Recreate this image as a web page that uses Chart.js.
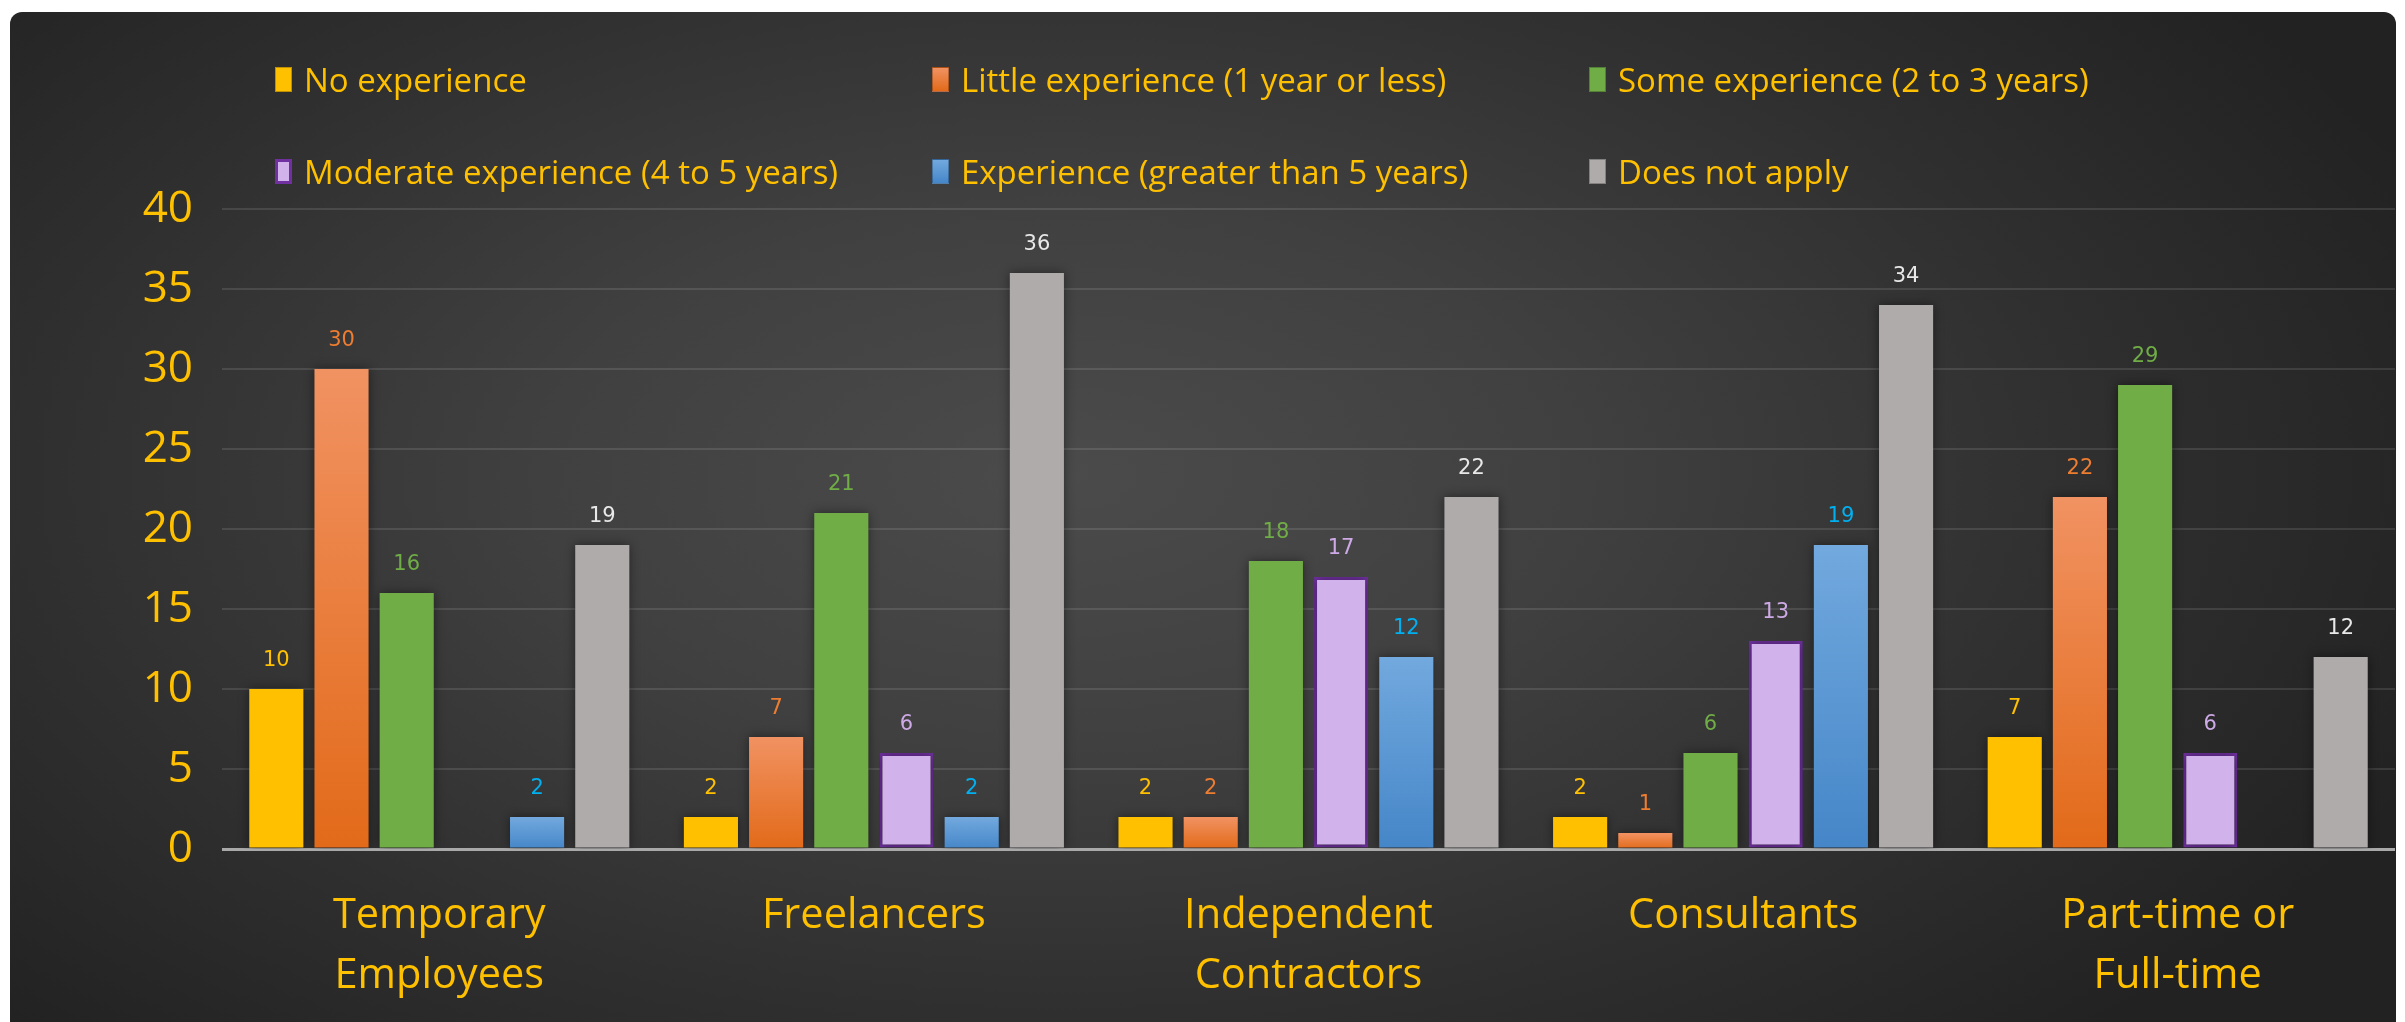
<!DOCTYPE html>
<html>
<head>
<meta charset="utf-8">
<script src="https://cdn.jsdelivr.net/npm/chart.js@4.4.1/dist/chart.umd.min.js"></script>
<style>
    html, body { margin: 0; padding: 0; background: #ffffff; }
    #wrap { position: relative; width: 2405px; height: 1022px; overflow: hidden; }
    #panel {
        position: absolute; left: 10px; top: 12px; width: 2386px; height: 1030px;
        border-radius: 12px;
        background: radial-gradient(ellipse 62% 75% at 44% 45%, #4b4b4b 0%, #404040 35%, #2f2f2f 70%, #222222 100%);
    }
    #chart { position: absolute; left: 0; top: 0; }
    #legend {
        position: absolute; left: 275px; top: 56px;
        display: grid; grid-template-columns: 657px 657px 657px; row-gap: 46px;
        font-family: "Open Sans", "Noto Sans", sans-serif; font-size: 33px; color: #FFC000;
    }
    .item { display: flex; align-items: center; height: 46px; white-space: nowrap; }
    .swatch { width: 17px; height: 25px; margin-right: 12px; box-sizing: border-box; border: 1px solid rgba(0,0,0,0.25); }
</style>
</head>
<body>
<div id="wrap">
    <div id="panel"></div>
    <canvas id="chart" width="2405" height="1022"></canvas>
    <div id="legend"></div>
</div>
<script>
// ===================================
// DATA
// ===================================

const categories = [
    ['Temporary', 'Employees'],
    'Freelancers',
    ['Independent', 'Contractors'],
    'Consultants',
    ['Part-time or', 'Full-time']
];

const seriesNames = [
    'No experience',
    'Little experience (1 year or less)',
    'Some experience (2 to 3 years)',
    'Moderate experience (4 to 5 years)',
    'Experience (greater than 5 years)',
    'Does not apply'
];

const noExperience     = [10, 2, 2, 2, 7];
const littleExperience = [30, 7, 2, 1, 22];
const someExperience   = [16, 21, 18, 6, 29];
const moderateExp      = [null, 6, 17, 13, 6];
const experienced      = [2, 2, 12, 19, null];
const doesNotApply     = [19, 36, 22, 34, 12];

const yTicks = [0, 5, 10, 15, 20, 25, 30, 35, 40];

// ===================================
// STYLE
// ===================================

const GOLD = '#FFC000';
const labelColors = ['#FFC000', '#ED7D31', '#70AD47', '#CDA9E6', '#00B0F0', '#E8E8E8'];

/**
 * Vertical gradient from the top of each bar down to the zero line
 */
function barGradient(top, bottom) {
    return (ctx) => {
        const chart = ctx.chart;
        if (!chart.chartArea || ctx.type !== 'data' || ctx.raw == null) return bottom;
        const y = chart.scales.y;
        const g = chart.ctx.createLinearGradient(0, y.getPixelForValue(ctx.raw), 0, y.getPixelForValue(0));
        g.addColorStop(0, top);
        g.addColorStop(1, bottom);
        return g;
    };
}

const series = [
    { data: noExperience,     fill: '#FFC000', swatch: '#FFC000', border: '#FFC000', width: 0 },
    { data: littleExperience, fill: barGradient('#F19262', '#E26A19'), swatch: 'linear-gradient(#F19262, #E26A19)', border: '#E26A19', width: 0 },
    { data: someExperience,   fill: '#70AD47', swatch: '#70AD47', border: '#70AD47', width: 0 },
    { data: moderateExp,      fill: '#D1B2EA', swatch: '#D1B2EA', border: '#7030A0', width: 3 },
    { data: experienced,      fill: barGradient('#72A9DE', '#4586C8'), swatch: 'linear-gradient(#72A9DE, #4586C8)', border: '#4586C8', width: 0 },
    { data: doesNotApply,     fill: '#AFABAB', swatch: '#AFABAB', border: '#AFABAB', width: 0 }
];

// ===================================
// PLUGINS
// ===================================

// soft shadow under bars, then value labels above each bar
const barExtras = {
    id: 'barExtras',
    beforeDatasetsDraw(chart) {
        const c = chart.ctx;
        c.save();
        c.shadowColor = 'rgba(0, 0, 0, 0.45)';
        c.shadowBlur = 10;
        c.shadowOffsetX = 0;
        c.shadowOffsetY = 0;
    },
    afterDatasetsDraw(chart) {
        const c = chart.ctx;
        c.restore();
        c.save();
        c.font = '21px "DejaVu Sans", sans-serif';
        c.textAlign = 'center';
        c.textBaseline = 'middle';
        chart.data.datasets.forEach((ds, i) => {
            const meta = chart.getDatasetMeta(i);
            c.fillStyle = labelColors[i];
            meta.data.forEach((bar, j) => {
                const v = ds.data[j];
                if (v == null) return;
                c.fillText(String(v), bar.x, bar.y - 28);
            });
        });
        c.restore();
    }
};

// ===================================
// CHART
// ===================================

const chart = new Chart(document.getElementById('chart'), {
    type: 'bar',
    data: {
        labels: categories,
        datasets: series.map((s, i) => ({
            label: seriesNames[i],
            data: s.data,
            backgroundColor: s.fill,
            borderColor: s.border,
            borderWidth: s.width,
            borderSkipped: false,
            categoryPercentage: 0.9,
            barPercentage: 0.83
        }))
    },
    options: {
        responsive: false,
        animation: false,
        layout: { padding: { top: 209, right: 10, left: 0, bottom: 0 } },
        plugins: {
            legend: { display: false },
            tooltip: { enabled: false }
        },
        scales: {
            x: {
                grid: { display: false },
                border: { display: false },
                ticks: {
                    color: GOLD,
                    padding: 29,
                    font: { family: '"Open Sans", "Noto Sans", sans-serif', size: 41.5, lineHeight: 1.45 },
                    maxRotation: 0
                },
                afterFit(scale) { scale.height = 1022 - 849; }
            },
            y: {
                min: 0,
                max: 40,
                afterBuildTicks(scale) { scale.ticks = yTicks.map(v => ({ value: v })); },
                grid: {
                    drawTicks: false,
                    lineWidth: (ctx) => ctx.tick && ctx.tick.value === 0 ? 3 : 2,
                    color: (ctx) => ctx.tick && ctx.tick.value === 0 ? '#A9A9A9' : 'rgba(255, 255, 255, 0.11)'
                },
                border: { display: false },
                ticks: {
                    color: GOLD,
                    padding: 29,
                    font: { family: '"Open Sans", "Noto Sans", sans-serif', size: 44 }
                },
                afterFit(scale) { scale.width = 222; }
            }
        }
    },
    plugins: [barExtras]
});

// ===================================
// LEGEND (three columns, like the original)
// ===================================

const legendEl = document.getElementById('legend');
chart.data.datasets.forEach((ds, i) => {
    const item = document.createElement('div');
    item.className = 'item';
    const sw = document.createElement('span');
    sw.className = 'swatch';
    sw.style.background = series[i].swatch;
    if (series[i].width) sw.style.border = '3px solid ' + series[i].border;
    const txt = document.createElement('span');
    txt.textContent = ds.label;
    item.appendChild(sw);
    item.appendChild(txt);
    legendEl.appendChild(item);
});
</script>
</body>
</html>
